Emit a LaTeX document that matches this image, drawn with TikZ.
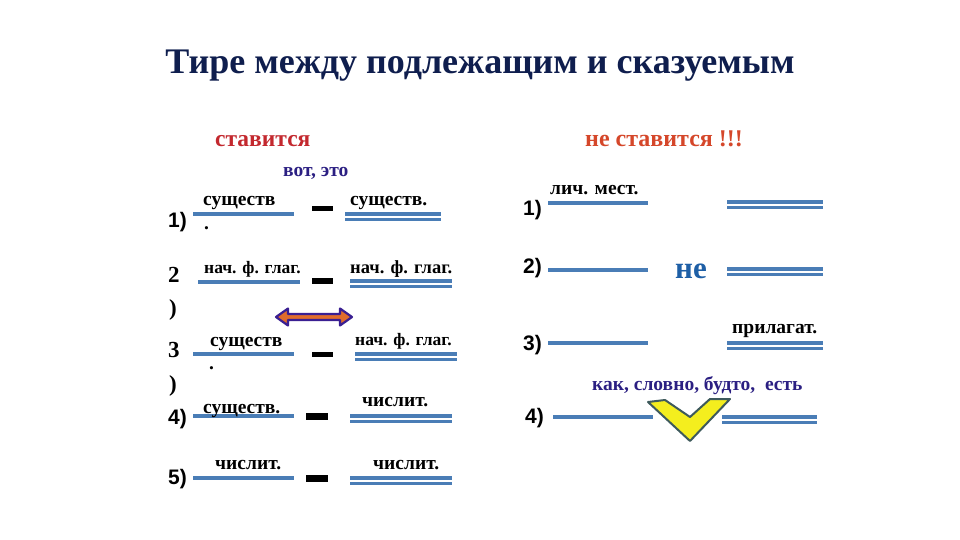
\documentclass[tikz,border=0pt]{standalone}
\usepackage{fontspec}
\setmainfont{Liberation Serif}
\newfontfamily\arialfont{Liberation Sans}
\definecolor{navy}{HTML}{0F1E4E}
\definecolor{redt}{HTML}{C3282E}
\definecolor{oranget}{HTML}{D5472A}
\definecolor{violett}{HTML}{2B1F82}
\definecolor{lineblue}{HTML}{4A7DB6}
\definecolor{neblue}{HTML}{1E5FA6}
\definecolor{arroworange}{HTML}{E06C2C}
\definecolor{arrowedge}{HTML}{3A1F92}
\definecolor{chevfill}{HTML}{F4EE1E}
\definecolor{chevedge}{HTML}{3E5A5C}
\tikzset{
  lbl/.style={anchor=base west, inner sep=0pt, font=\bfseries\fontsize{19.5}{22}\selectfont},
  lblsm/.style={anchor=base west, inner sep=0pt, font=\bfseries\fontsize{17.5}{20}\selectfont},
  num/.style={anchor=base west, inner sep=0pt, font=\arialfont\bfseries\fontsize{21}{24}\selectfont},
  numser/.style={anchor=base west, inner sep=0pt, font=\bfseries\fontsize{23}{26}\selectfont},
  single/.style={lineblue, line width=3.6pt},
  dbl/.style={lineblue, line width=3.4pt},
  tire/.style={fill=black, draw=none}
}
\newcommand{\dline}[3]{\draw[dbl] (#1,#3) -- (#2,#3); \draw[dbl] (#1,#3+5.5) -- (#2,#3+5.5);}
\begin{document}
\begin{tikzpicture}[x=1pt,y=-1pt]
\useasboundingbox (0,0) rectangle (960,540);
\fill[white] (0,0) rectangle (960,540);
% title
\node[anchor=base, inner sep=0pt, text=navy, font=\bfseries\fontsize{36}{42}\selectfont] (title) at (480,74) {Тире между подлежащим и сказуемым};
\node[anchor=base west, inner sep=0pt, text=redt, font=\bfseries\fontsize{23.5}{26}\selectfont] (stav) at (215,147) {ставится};
\node[anchor=base west, inner sep=0pt, text=oranget, font=\bfseries\fontsize{24}{27}\selectfont] (nestav) at (585,147) {не ставится !!!};
\node[anchor=base west, inner sep=0pt, text=violett, font=\bfseries\fontsize{19.5}{22}\selectfont] (vot) at (283,176) {вот, это};
% row 1
\node[num] (n1) at (168,227) {1)};
\draw[single] (193,214) -- (294,214);
\node[lbl] (l1a) at (203,205) {существ};
\node[lbl] (l1dot) at (204,229) {.};
\fill[tire] (312,206) rectangle (333,211);
\dline{345}{441}{214}
\node[lbl] (l1b) at (350,205) {существ.};
% row 2
\node[numser] (n2) at (168,282) {2};
\node[numser] (n2p) at (169,315) {)};
\draw[single] (198,282) -- (300,282);
\node[lblsm] (l2a) at (204,273) {нач. ф. глаг.};
\fill[tire] (312,278) rectangle (333,284);
\dline{350}{452}{281}
\node[lblsm, font=\bfseries\fontsize{18.5}{21}\selectfont] (l2b) at (350,273) {нач. ф. глаг.};
% double arrow
\draw[arrowedge, line width=2.2pt, fill=arroworange, line join=round]
  (276,317) -- (288,308.5) -- (288,314) -- (340,314) -- (340,308.5) -- (352,317)
  -- (340,325.5) -- (340,320) -- (288,320) -- (288,325.5) -- cycle;
% row 3
\node[numser] (n3) at (168,357) {3};
\node[numser] (n3p) at (169,391) {)};
\draw[single] (193,354) -- (294,354);
\node[lbl] (l3a) at (210,346) {существ};
\node[lbl] (l3dot) at (209,369) {.};
\fill[tire] (312,352) rectangle (333,357);
\dline{355}{457}{354}
\node[lblsm] (l3b) at (355,345) {нач. ф. глаг.};
% row 4
\node[num] (n4) at (168,424) {4)};
\draw[single] (193,416) -- (294,416);
\node[lbl] (l4a) at (203,413) {существ.};
\fill[tire] (306,413) rectangle (328,420);
\dline{350}{452}{416}
\node[lbl] (l4b) at (362,406) {числит.};
% row 5
\node[num] (n5) at (168,484) {5)};
\draw[single] (193,478) -- (294,478);
\node[lbl] (l5a) at (215,469) {числит.};
\fill[tire] (306,475) rectangle (328,482);
\dline{350}{452}{478}
\node[lbl] (l5b) at (373,469) {числит.};
% right column
\node[num] (r1) at (523,215) {1)};
\draw[single] (548,203) -- (648,203);
\node[lbl] (r1a) at (550,194) {лич. мест.};
\dline{727}{823}{202}
\node[num] (r2) at (523,273) {2)};
\draw[single] (548,270) -- (648,270);
\node[anchor=base west, inner sep=0pt, text=neblue, font=\bfseries\fontsize{31}{34}\selectfont] (ne) at (675,278) {не};
\dline{727}{823}{269}
\node[num] (r3) at (523,350) {3)};
\draw[single] (548,343) -- (648,343);
\node[lbl] (r3b) at (732,333) {прилагат.};
\dline{727}{823}{343}
\node[anchor=base west, inner sep=0pt, text=violett, font=\bfseries\fontsize{19.5}{22}\selectfont] (kak) at (592,390) {как, словно, будто,\ \ есть};
\node[num] (r4) at (525,423) {4)};
\draw[single] (553,417) -- (653,417);
\dline{722}{817}{417}
\draw[chevedge, line width=2pt, fill=chevfill, line join=round]
  (648,402) -- (665,400) -- (690,417) -- (710,399) -- (730,399) -- (690,441) -- cycle;
\end{tikzpicture}
\end{document}
